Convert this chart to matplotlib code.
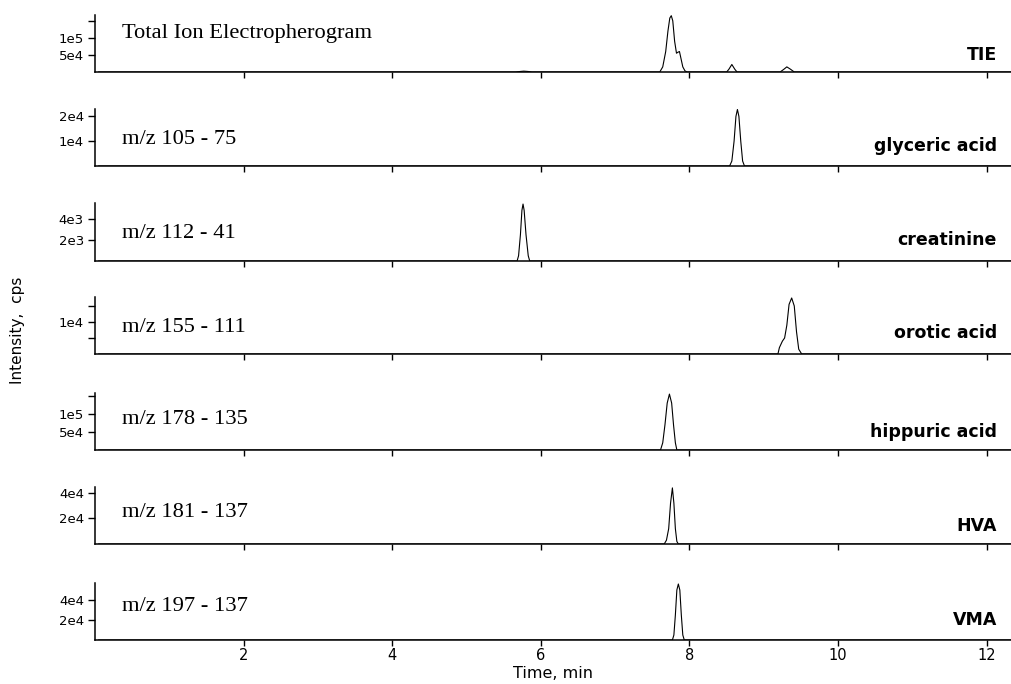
import matplotlib
matplotlib.use("Agg")
import matplotlib.pyplot as plt
from matplotlib.ticker import FixedLocator

# ---------------- data ----------------
panel_titles = ["Total Ion Electropherogram", "m/z 105 - 75", "m/z 112 - 41",
                "m/z 155 - 111", "m/z 178 - 135", "m/z 181 - 137", "m/z 197 - 137"]
panel_names = ["TIE", "glyceric acid", "creatinine", "orotic acid",
               "hippuric acid", "HVA", "VMA"]

tie_t = [0.05, 5.66, 5.72, 5.77, 5.83, 5.88, 7.60, 7.64, 7.68, 7.71, 7.735, 7.755, 7.775,
         7.80, 7.825, 7.845, 7.865, 7.885, 7.91, 7.94, 7.97, 8.50, 8.53, 8.57, 8.61, 8.64,
         9.22, 9.27, 9.31, 9.36, 9.41, 12.35]
tie_i = [0, 0, 1.5e3, 2.5e3, 1.5e3, 0, 0, 1.5e4, 6.0e4, 1.2e5, 1.58e5, 1.65e5, 1.5e5,
         9.0e4, 5.5e4, 5.8e4, 6.0e4, 4.0e4, 1.5e4, 3e3, 0, 0, 8e3, 2.2e4, 8e3, 0,
         0, 8e3, 1.5e4, 8e3, 0, 0]

gly_t = [0.05, 8.54, 8.57, 8.60, 8.625, 8.645, 8.665, 8.69, 8.715, 8.74, 12.35]
gly_i = [0, 0, 2e3, 1.0e4, 2.0e4, 2.28e4, 2.0e4, 1.0e4, 2e3, 0, 0]

cre_t = [0.05, 5.68, 5.70, 5.725, 5.745, 5.76, 5.775, 5.80, 5.83, 5.85, 12.35]
cre_i = [0, 0, 5e2, 2.5e3, 4.8e3, 5.4e3, 4.8e3, 2.5e3, 5e2, 0, 0]

oro_t = [0.05, 9.19, 9.21, 9.25, 9.28, 9.31, 9.34, 9.375, 9.41, 9.44, 9.47, 9.51, 12.35]
oro_i = [0, 0, 2e3, 4e3, 5e3, 9e3, 1.55e4, 1.75e4, 1.5e4, 7e3, 1.5e3, 0, 0]

hip_t = [0.05, 7.61, 7.64, 7.67, 7.70, 7.73, 7.76, 7.785, 7.81, 7.83, 12.35]
hip_i = [0, 0, 2e4, 7e4, 1.3e5, 1.55e5, 1.3e5, 7e4, 2e4, 0, 0]

hva_t = [0.05, 7.66, 7.69, 7.72, 7.745, 7.77, 7.79, 7.81, 7.83, 7.85, 12.35]
hva_i = [0, 0, 3e3, 1.2e4, 3.2e4, 4.4e4, 3.2e4, 1.2e4, 2e3, 0, 0]

vma_t = [0.05, 7.77, 7.79, 7.81, 7.83, 7.85, 7.87, 7.89, 7.91, 7.93, 12.35]
vma_i = [0, 0, 5e3, 2.5e4, 5.0e4, 5.6e4, 5.0e4, 2.5e4, 5e3, 0, 0]

traces_t = [tie_t, gly_t, cre_t, oro_t, hip_t, hva_t, vma_t]
traces_i = [tie_i, gly_i, cre_i, oro_i, hip_i, hva_i, vma_i]

ytop = [1.67e5, 2.3e4, 5.5e3, 1.78e4, 1.58e5, 4.47e4, 5.7e4]
ytick_major = [[5e4, 1e5], [1e4, 2e4], [2e3, 4e3], [1e4], [5e4, 1e5], [2e4, 4e4], [2e4, 4e4]]
ytick_labels = [["5e4", "1e5"], ["1e4", "2e4"], ["2e3", "4e3"], ["1e4"], ["5e4", "1e5"],
                ["2e4", "4e4"], ["2e4", "4e4"]]
ytick_minor = [[1.5e5], [], [], [5e3, 1.5e4], [1.5e5], [], []]

xticks = [2, 4, 6, 8, 10, 12]
xtick_labels = ["2", "4", "6", "8", "10", "12"]

# ---------------- layout ----------------
W, H = 1012, 684
fig = plt.figure(figsize=(W / 100, H / 100), dpi=100)

left_px = 95
bottoms_px = [72, 166, 261, 354, 450, 544, 640]
tops_px = [15, 109, 203, 297, 393, 487, 583]
title_y = [0.68, 0.47, 0.47, 0.47, 0.54, 0.56, 0.58]
name_y = [0.30, 0.35, 0.37, 0.37, 0.32, 0.32, 0.35]

tick_font = dict(family="DejaVu Sans", size=9.5)

for k in range(7):
    b = bottoms_px[k]
    t = tops_px[k]
    ax = fig.add_axes([left_px / W, 1 - b / H, 1 - left_px / W, (b - t) / H])
    ax.plot(traces_t[k], traces_i[k], color="black", lw=0.8)
    ax.set_xlim(0, 12.34)
    ax.set_ylim(0, ytop[k])
    for s in ["top", "right"]:
        ax.spines[s].set_visible(False)
    ax.spines["left"].set_linewidth(1.1)
    ax.spines["bottom"].set_linewidth(1.1)
    ax.yaxis.set_major_locator(FixedLocator(ytick_major[k]))
    ax.set_yticklabels(ytick_labels[k], **tick_font)
    ax.yaxis.set_minor_locator(FixedLocator(ytick_minor[k]))
    ax.tick_params(axis="y", which="both", direction="out", length=5, width=1, pad=3)
    ax.xaxis.set_major_locator(FixedLocator(xticks))
    ax.tick_params(axis="x", direction="out", length=4, width=1)
    if k == 6:
        ax.set_xticklabels(xtick_labels, family="DejaVu Sans", size=10.5)
        ax.tick_params(axis="x", pad=2)
    else:
        ax.set_xticklabels([])
    ax.text(0.029, title_y[k], panel_titles[k], transform=ax.transAxes,
            family="Liberation Serif", fontsize=16.2, va="center", ha="left")
    ax.text(0.9836, name_y[k], panel_names[k], transform=ax.transAxes,
            family="DejaVu Sans", fontweight="bold", fontsize=12.5,
            va="center", ha="right")
    if k == 6:
        ax.set_xlabel("Time, min", family="DejaVu Sans", fontsize=11.5, labelpad=2)

fig.text(18 / W, 1 - 330 / H, "Intensity,  cps", rotation=90, family="DejaVu Sans",
         fontsize=11, va="center", ha="center")

fig.savefig("out.png", dpi=100)
